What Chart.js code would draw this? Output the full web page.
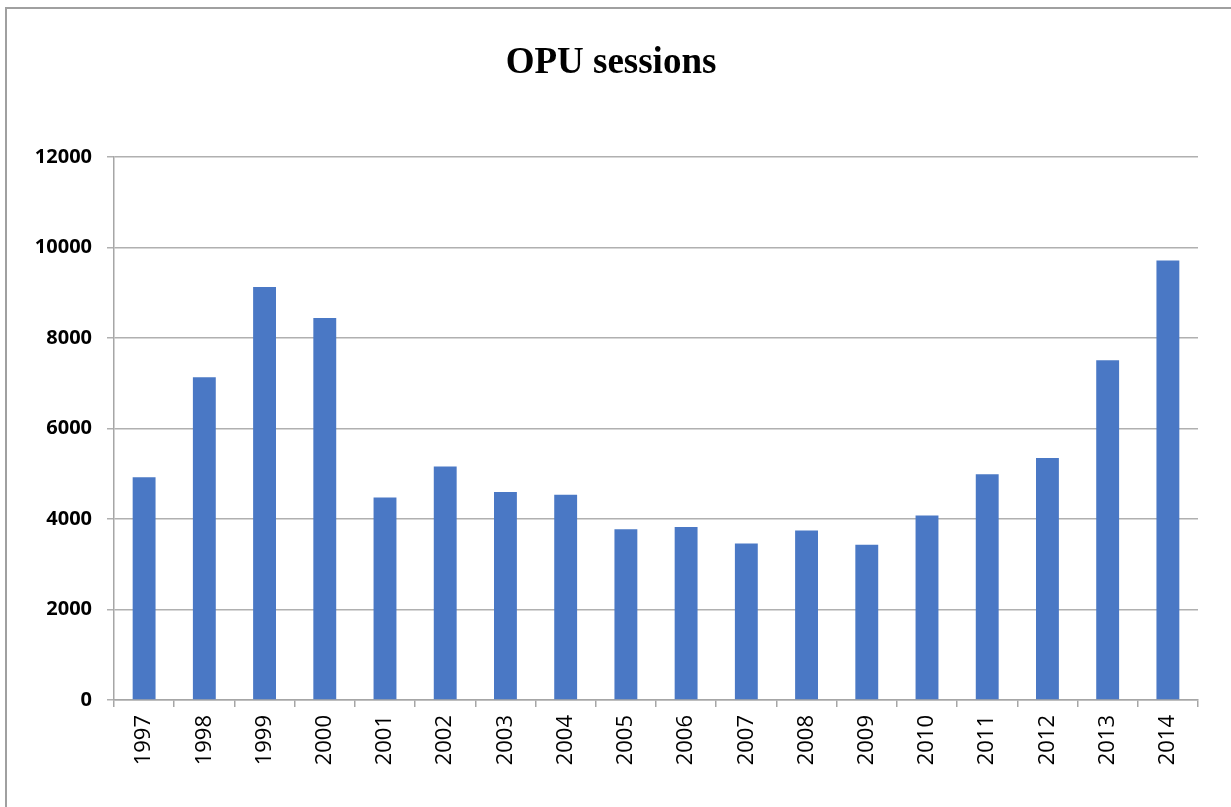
<!DOCTYPE html>
<html>
<head>
<meta charset="utf-8">
<script src="https://cdn.jsdelivr.net/npm/chart.js@4/dist/chart.umd.min.js"></script>
<style>
  html, body { margin: 0; padding: 0; background: #ffffff; }
  #wrap { position: relative; width: 1231px; height: 807px; }
</style>
</head>
<body>
<div id="wrap"><canvas id="c" width="1231" height="807"></canvas></div>
<script>
const chartTitle = "OPU sessions";
const years = ["1997","1998","1999","2000","2001","2002","2003","2004","2005","2006","2007","2008","2009","2010","2011","2012","2013","2014"];
const sessions = [4925, 7135, 9125, 8440, 4475, 5160, 4595, 4535, 3775, 3825, 3460, 3745, 3430, 4075, 4990, 5350, 7510, 9715];
const yMin = 0, yMax = 12000, yStep = 2000;

const framePlugin = {
  id: 'frame',
  beforeDraw(chart) {
    const ctx = chart.ctx;
    ctx.save();
    ctx.fillStyle = '#ffffff';
    ctx.fillRect(0, 0, chart.width, chart.height);
    ctx.strokeStyle = '#a0a0a0';
    ctx.lineWidth = 2;
    ctx.beginPath();
    ctx.moveTo(6, chart.height);
    ctx.lineTo(6, 8);
    ctx.lineTo(chart.width, 8);
    ctx.stroke();
    ctx.restore();
  }
};

new Chart(document.getElementById('c'), {
  type: 'bar',
  data: {
    labels: years,
    datasets: [{
      label: chartTitle,
      data: sessions,
      backgroundColor: '#4a78c5',
      borderWidth: 0,
      categoryPercentage: 1.0,
      barPercentage: 0.38
    }]
  },
  options: {
    responsive: false,
    animation: false,
    devicePixelRatio: 1,
    layout: { padding: { left: 24, right: 33, top: 0, bottom: 0 } },
    plugins: {
      legend: { display: false },
      tooltip: { enabled: false },
      title: {
        display: true,
        text: chartTitle,
        color: '#000000',
        font: { family: '"Liberation Serif", "Times New Roman", serif', size: 37, weight: 'bold', lineHeight: 1.2 },
        padding: { top: 41, bottom: 71.6 }
      }
    },
    scales: {
      x: {
        offset: true,
        grid: {
          offset: true,
          drawOnChartArea: false,
          drawTicks: true,
          tickLength: 7,
          color: '#a6a6a6',
          lineWidth: 1.5
        },
        border: { display: true, color: '#a6a6a6', width: 1.5 },
        ticks: {
          color: '#000000',
          font: { family: '"Open Sans", sans-serif', size: 22 },
          minRotation: 90,
          maxRotation: 90,
          padding: 8,
          autoSkip: false
        },
        afterFit(scale) { scale.height = 107; }
      },
      y: {
        min: yMin,
        max: yMax,
        grid: {
          color: '#b0b0b0',
          lineWidth: 1.5,
          drawTicks: true,
          tickLength: 7
        },
        border: { display: true, color: '#a6a6a6', width: 1.5 },
        ticks: {
          stepSize: yStep,
          color: '#000000',
          font: { family: '"Open Sans", sans-serif', size: 20, weight: 'bold' },
          padding: 15,
          callback: (v) => String(v)
        },
        afterFit(scale) { scale.width = 90; }
      }
    }
  },
  plugins: [framePlugin]
});
</script>
</body>
</html>
